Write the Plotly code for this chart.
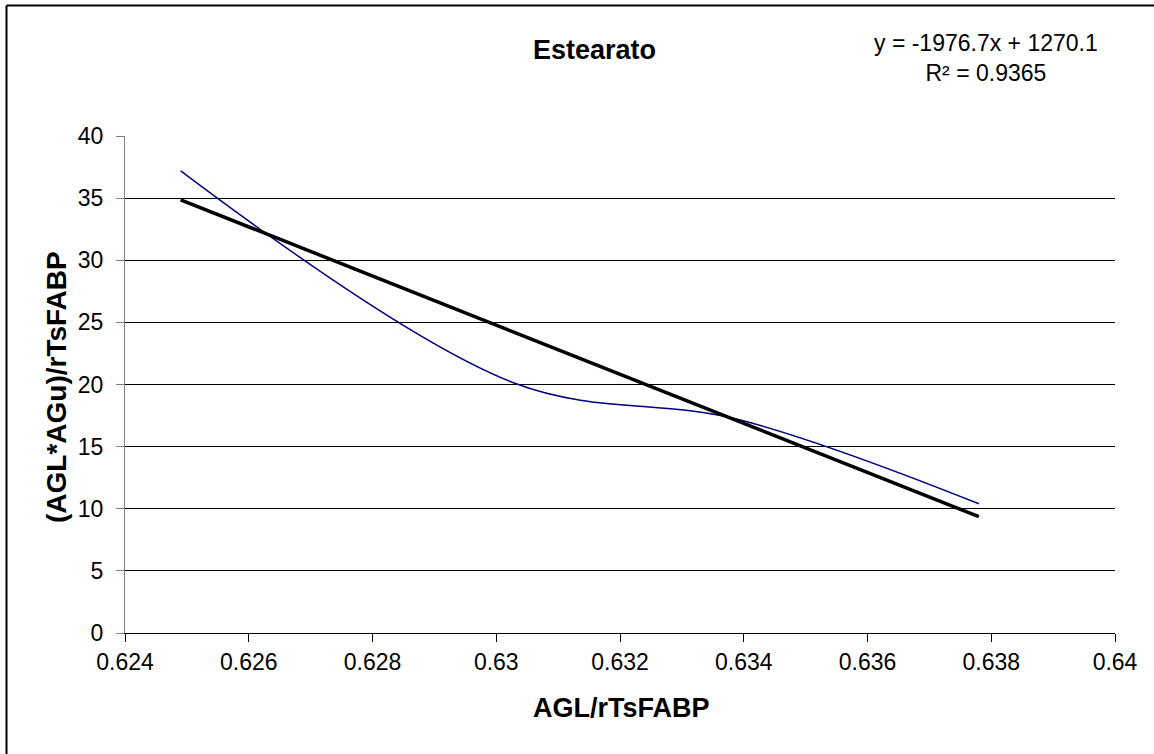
import plotly.graph_objects as go

# Measured points
agl_ratio = [0.6249, 0.6303, 0.6339, 0.6378]
agl_agu = [37.2, 20.1, 17.2, 10.4]

# Linear trendline reported on the chart
slope = -1976.7
intercept = 1270.1
r_squared = 0.9365

x_ticks = [0.624, 0.626, 0.628, 0.63, 0.632, 0.634, 0.636, 0.638, 0.64]
x_tick_labels = ["0.624", "0.626", "0.628", "0.63", "0.632", "0.634", "0.636", "0.638", "0.64"]
y_ticks = [0, 5, 10, 15, 20, 25, 30, 35, 40]

trend_x = [min(agl_ratio), max(agl_ratio)]
trend_y = [slope * v + intercept for v in trend_x]

font_family = "Liberation Sans, Arial, sans-serif"

fig = go.Figure()
fig.add_trace(go.Scatter(
    x=agl_ratio, y=agl_agu, mode="lines",
    line=dict(color="#000080", width=1.5, shape="spline", smoothing=1.0),
    showlegend=False, hoverinfo="x+y",
))
fig.add_trace(go.Scatter(
    x=trend_x, y=trend_y, mode="lines",
    line=dict(color="black", width=3.5),
    showlegend=False, hoverinfo="x+y",
))

L, R, T, B = 125, 39, 136, 121
W, H = 1154, 754
pw, ph = W - L - R, H - T - B

def px_x(p):
    return (p - L) / pw

def px_y(p):
    return (H - B - p) / ph

fig.update_layout(
    width=W, height=H,
    margin=dict(l=L, r=R, t=T, b=B),
    paper_bgcolor="white", plot_bgcolor="white",
    font=dict(family=font_family, size=23, color="black"),
    xaxis=dict(
        range=[0.624, 0.64], tickvals=x_ticks, ticktext=x_tick_labels,
        showgrid=False, zeroline=False,
        showline=True, linecolor="black", linewidth=1,
        ticks="outside", ticklen=8, tickcolor="black",
        tickfont=dict(size=23),
    ),
    yaxis=dict(
        range=[0, 40], tickvals=y_ticks,
        showgrid=True, gridcolor="black", gridwidth=1,
        zeroline=False,
        showline=True, linecolor="#808080", linewidth=1,
        ticks="outside", ticklen=8, tickcolor="#808080",
        tickfont=dict(size=23), ticklabelstandoff=8,
    ),
    shapes=[
        dict(type="line", xref="paper", yref="paper",
             x0=px_x(6.5), x1=px_x(1160), y0=px_y(5.5), y1=px_y(5.5),
             line=dict(color="black", width=2)),
        dict(type="line", xref="paper", yref="paper",
             x0=px_x(6.5), x1=px_x(6.5), y0=px_y(5.5), y1=px_y(760),
             line=dict(color="black", width=2)),
    ],
    annotations=[
        dict(text="<b>Estearato</b>", xref="paper", yref="paper",
             x=px_x(594), y=px_y(50), showarrow=False,
             font=dict(size=27), xanchor="center", yanchor="middle"),
        dict(text=f"y = {slope}x + {intercept}<br>R² = {r_squared}",
             xref="paper", yref="paper", x=px_x(986), y=px_y(58),
             showarrow=False, font=dict(size=23), align="center",
             xanchor="center", yanchor="middle"),
        dict(text="<b>AGL/rTsFABP</b>", xref="paper", yref="paper",
             x=px_x(621), y=px_y(708), showarrow=False,
             font=dict(size=27), xanchor="center", yanchor="middle"),
        dict(text="<b>(AGL*AGu)/rTsFABP</b>", xref="paper", yref="paper",
             x=px_x(56), y=px_y(387), showarrow=False, textangle=-90,
             font=dict(size=28), xanchor="center", yanchor="middle"),
    ],
)

fig.write_html("out.html")
